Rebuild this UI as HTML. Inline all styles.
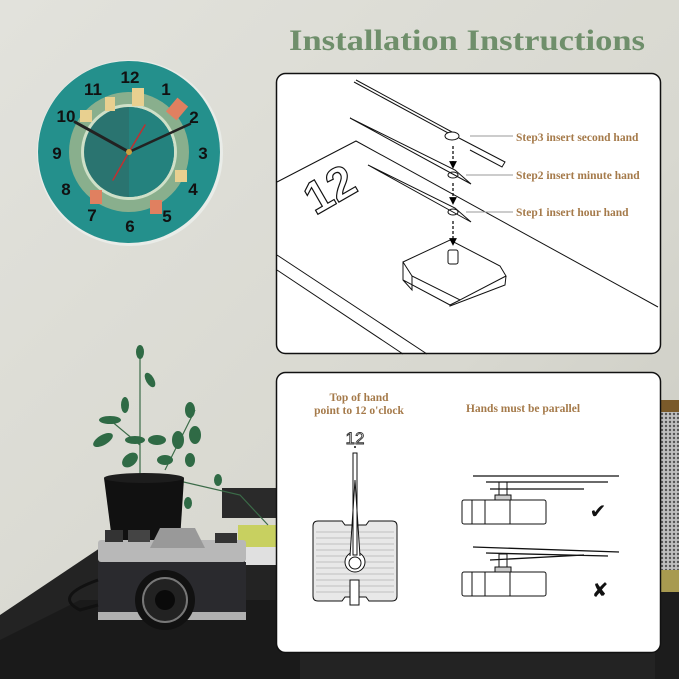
<!DOCTYPE html>
<html><head><meta charset="utf-8"><style>
html,body{margin:0;padding:0;width:679px;height:679px;overflow:hidden;background:#d9d9d2}
svg{display:block}
.lbl{font-family:"Liberation Serif",serif;font-weight:bold;fill:#a57a4a}
</style></head><body>
<svg width="679" height="679" viewBox="0 0 679 679" xmlns="http://www.w3.org/2000/svg">
<defs>
<linearGradient id="wall" x1="0" y1="0" x2="1" y2="1">
<stop offset="0" stop-color="#e2e2dc"/><stop offset="0.6" stop-color="#d8d8d0"/><stop offset="1" stop-color="#c9c9c0"/>
</linearGradient>
<pattern id="mesh" width="4" height="4" patternUnits="userSpaceOnUse">
<rect width="4" height="4" fill="#bfbfbf"/><circle cx="2" cy="2" r="1.2" fill="#555"/>
</pattern>
<marker id="ah" markerWidth="6" markerHeight="6" refX="3" refY="3" orient="auto"><path d="M0,0 L6,3 L0,6z" fill="#000"/></marker>
</defs>
<rect width="679" height="679" fill="url(#wall)"/>
<!-- desk -->
<path d="M0,615 L100,548 L679,548 L679,679 L0,679z" fill="#232323"/>
<path d="M0,640 L80,600 L300,600 L300,679 L0,679z" fill="#1a1a1a"/>
<!-- right shelf -->
<rect x="655" y="400" width="24" height="12" fill="#7a5a2a"/>
<rect x="655" y="412" width="24" height="158" fill="url(#mesh)"/>
<rect x="655" y="570" width="24" height="22" fill="#a89a50"/>
<rect x="655" y="592" width="24" height="87" fill="#1c1c1c"/>
<!-- books -->
<rect x="222" y="488" width="55" height="30" fill="#2a2a2a"/>
<rect x="238" y="525" width="40" height="22" fill="#c8d060"/>
<rect x="245" y="547" width="33" height="18" fill="#e0e0e0"/>
<!-- plant -->
<g stroke="#3b6b48" stroke-width="1.2" fill="none">
<path d="M140,475 L140,350"/><path d="M140,445 L110,420"/><path d="M165,470 L195,410"/><path d="M175,480 L240,495 L268,525"/>
</g>
<g fill="#2f6a45">
<ellipse cx="140" cy="352" rx="4" ry="7"/><ellipse cx="150" cy="380" rx="4" ry="8" transform="rotate(-30 150 380)"/>
<ellipse cx="125" cy="405" rx="4" ry="8"/><ellipse cx="110" cy="420" rx="11" ry="4"/><ellipse cx="103" cy="440" rx="11" ry="5" transform="rotate(-30 103 440)"/>
<ellipse cx="135" cy="440" rx="10" ry="4"/><ellipse cx="157" cy="440" rx="9" ry="5"/><ellipse cx="130" cy="460" rx="9" ry="6" transform="rotate(-40 130 460)"/>
<ellipse cx="190" cy="410" rx="5" ry="8"/><ellipse cx="195" cy="435" rx="6" ry="9"/><ellipse cx="178" cy="440" rx="6" ry="9"/>
<ellipse cx="165" cy="460" rx="8" ry="5"/><ellipse cx="190" cy="460" rx="5" ry="7"/><ellipse cx="218" cy="480" rx="4" ry="6"/><ellipse cx="188" cy="503" rx="4" ry="6"/>
</g>
<path d="M104,478 L184,478 L180,540 L112,540z" fill="#111"/>
<ellipse cx="144" cy="478" rx="40" ry="5" fill="#1d1d1d"/>
<!-- camera -->
<rect x="98" y="540" width="148" height="22" rx="3" fill="#b8b8b8"/>
<rect x="105" y="530" width="18" height="12" fill="#333"/><rect x="128" y="530" width="22" height="12" fill="#444"/><rect x="215" y="533" width="22" height="10" fill="#333"/>
<path d="M150,548 L160,528 L195,528 L205,548z" fill="#999"/>
<rect x="98" y="562" width="148" height="55" fill="#2a2a2e"/>
<rect x="98" y="612" width="148" height="8" fill="#b0b0b0"/>
<circle cx="165" cy="600" r="30" fill="#111"/><circle cx="165" cy="600" r="22" fill="#222" stroke="#777" stroke-width="2"/><circle cx="165" cy="600" r="10" fill="#0a0a0a"/>
<path d="M98,580 C70,590 60,600 80,610 L98,605" stroke="#111" stroke-width="3" fill="none"/>
<!-- clock -->
<circle cx="130" cy="153" r="93" fill="#e9ece8"/>
<circle cx="129" cy="152" r="91" fill="#24908c"/>
<circle cx="129" cy="152" r="60" fill="#dcc98e" opacity="0.55"/>
<circle cx="129" cy="152" r="48" fill="#cfe0c8"/>
<circle cx="129" cy="152" r="45" fill="#2a7470"/>
<path d="M129,107 A45,45 0 0 1 129,197z" fill="#24827e"/>
<g fill="#e08060"><rect x="170" y="100" width="14" height="18" transform="rotate(40 177 109)"/><rect x="90" y="190" width="12" height="14"/><rect x="150" y="200" width="12" height="14"/></g>
<g fill="#e8d090"><rect x="105" y="97" width="10" height="14"/><rect x="132" y="88" width="12" height="18"/><rect x="175" y="170" width="12" height="12"/><rect x="80" y="110" width="12" height="12"/></g>
<g font-family="Liberation Sans,sans-serif" font-weight="bold" font-size="17" fill="#111" text-anchor="middle">
<text x="130" y="83">12</text><text x="166" y="95">1</text><text x="194" y="123">2</text><text x="203" y="159">3</text><text x="193" y="195">4</text><text x="167" y="222">5</text><text x="130" y="232">6</text><text x="92" y="221">7</text><text x="66" y="195">8</text><text x="57" y="159">9</text><text x="66" y="122">10</text><text x="93" y="95">11</text>
</g>
<g stroke-linecap="round">
<line x1="129" y1="152" x2="75" y2="122" stroke="#222" stroke-width="3"/>
<line x1="129" y1="152" x2="190" y2="124" stroke="#222" stroke-width="2.5"/>
<line x1="129" y1="152" x2="145" y2="125" stroke="#c03030" stroke-width="1.5"/>
<line x1="129" y1="152" x2="113" y2="180" stroke="#c03030" stroke-width="1.5"/>
</g>
<circle cx="129" cy="152" r="3" fill="#c9a040"/>
<!-- title -->
<text x="467" y="50" text-anchor="middle" font-family="Liberation Serif,serif" font-weight="bold" font-size="30" fill="#6f8f6b" textLength="356" lengthAdjust="spacingAndGlyphs">Installation Instructions</text>
<!-- panel 1 -->
<rect x="276.5" y="73.5" width="384" height="280" rx="9" fill="#fff" stroke="#111" stroke-width="1.5"/>
<g stroke="#111" stroke-width="1" fill="none">
<path d="M277,182 L356,141 L658,307"/>
<path d="M277,255 L427,354"/><path d="M277,270 L403,354"/>
<path d="M354,82 L450,134 M356,80 L452,132"/>
<ellipse cx="452" cy="136" rx="7" ry="4" fill="#fff"/>
<path d="M459,138 L505,162 L502,167 L470,150"/>
<path d="M350,118 L471,184 L455,170z"/>
<ellipse cx="453" cy="175" rx="5" ry="3"/>
<path d="M368,165 L471,222 L455,208z"/>
<ellipse cx="453" cy="212" rx="5" ry="3"/>
<path d="M403,262 L450,240 L500,266 L506,276 L460,300 L412,276z" fill="#fff"/>
<path d="M403,262 L403,280 L450,305 L460,300 M403,280 L412,290 L412,276"/>
<path d="M450,305 L450,306 L505,285 L506,276"/>
<rect x="448" y="250" width="10" height="14" rx="2" fill="#fff"/>
<path d="M470,136 L513,136 M466,175 L513,175 M466,212 L513,212" stroke="#999"/>
</g>
<g stroke="#111" stroke-width="1.3" stroke-dasharray="3,2">
<line x1="453" y1="146" x2="453" y2="165" marker-end="url(#ah)"/>
<line x1="453" y1="183" x2="453" y2="201" marker-end="url(#ah)"/>
<line x1="453" y1="221" x2="453" y2="242" marker-end="url(#ah)"/>
</g>
<text x="330" y="205" font-family="Liberation Sans,sans-serif" font-weight="bold" font-size="46" fill="#fff" stroke="#111" stroke-width="1.2" text-anchor="middle" transform="rotate(-30 330 190)">12</text>
<g class="lbl" font-size="11.5">
<text x="516" y="141">Step3 insert second hand</text>
<text x="516" y="179">Step2 insert minute hand</text>
<text x="516" y="216">Step1 insert hour hand</text>
</g>
<!-- panel 2 -->
<rect x="276.5" y="372.5" width="384" height="280" rx="9" fill="#fff" stroke="#111" stroke-width="1.5"/>
<g class="lbl" font-size="11.5" text-anchor="middle">
<text x="359" y="401">Top of hand</text><text x="359" y="414">point to 12 o'clock</text>
<text x="523" y="412">Hands must be parallel</text>
</g>
<text x="355" y="444" text-anchor="middle" font-family="Liberation Sans,sans-serif" font-size="17" fill="#fff" stroke="#333" stroke-width="0.9">12</text>
<circle cx="355" cy="447" r="1" fill="#111"/>
<g stroke="#111" fill="none">
<path d="M318,521 L342,521 L345,525 L366,525 L369,521 L392,521 Q397,521 397,526 L397,596 Q397,601 392,601 L369,601 L366,597 L345,597 L342,601 L318,601 Q313,601 313,596 L313,526 Q313,521 318,521z" fill="#e8e8e8"/>
<path d="M316,532 L394,532 M316,538 L394,538 M316,544 L394,544 M316,550 L394,550 M316,556 L394,556 M316,562 L394,562 M316,568 L394,568 M316,574 L394,574 M316,580 L394,580 M316,586 L394,586 M316,592 L394,592" stroke="#999" stroke-width="0.6"/>
<circle cx="355" cy="562" r="10" fill="#fff"/>
<path d="M353,453 L357,453 L357,555 L353,555z M350,556 L355,480 L360,556" fill="#fff"/>
<circle cx="355" cy="563" r="6" fill="#fff"/>
<rect x="350" y="580" width="9" height="25" fill="#fff"/>
<!-- top movement -->
<rect x="462" y="500" width="84" height="24" rx="2" fill="#fff"/>
<path d="M472,500 L472,524 M485,500 L485,524 M510,500 L510,524"/>
<rect x="495" y="495" width="16" height="5" fill="#ccc"/>
<rect x="499" y="482" width="8" height="13" fill="#fff"/>
<path d="M473,476 L619,476 M486,482 L608,482 M490,489 L584,489" stroke-width="1.3"/>
<!-- bottom -->
<rect x="462" y="572" width="84" height="24" rx="2" fill="#fff"/>
<path d="M472,572 L472,596 M485,572 L485,596 M510,572 L510,596"/>
<rect x="495" y="567" width="16" height="5" fill="#ccc"/>
<rect x="499" y="554" width="8" height="13" fill="#fff"/>
<path d="M473,547 L619,552 M486,553 L608,556 M490,560 L584,555" stroke-width="1.3"/>
</g>
<text x="598" y="518" text-anchor="middle" font-family="DejaVu Sans,sans-serif" font-size="20" font-weight="bold" fill="#111">✔</text>
<text x="600" y="597" text-anchor="middle" font-family="DejaVu Sans,sans-serif" font-size="20" font-weight="bold" fill="#111">✘</text>
</svg>
</body></html>
